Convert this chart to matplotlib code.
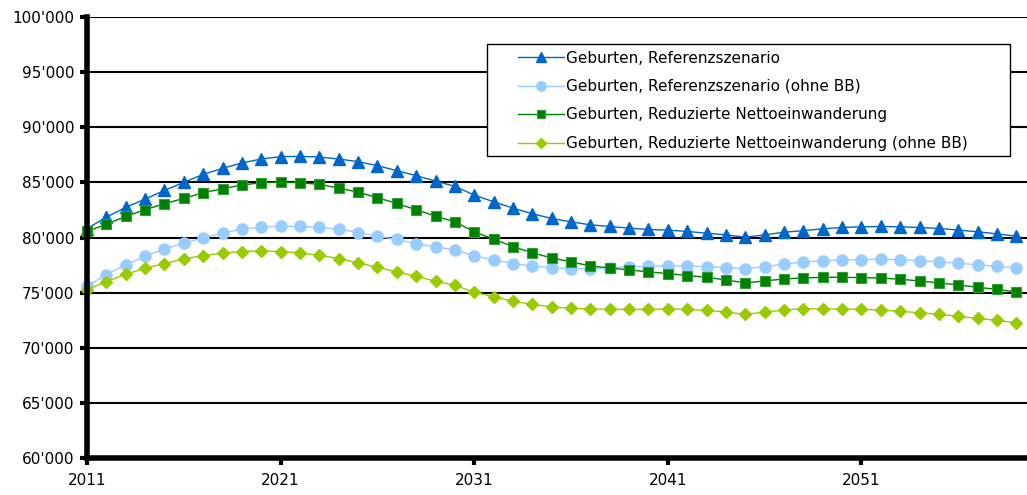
import matplotlib
matplotlib.use("Agg")
import matplotlib.pyplot as plt
from matplotlib.ticker import FuncFormatter
from matplotlib.patches import Rectangle

years = list(range(2011, 2060))

ref = [80800, 81850, 82730, 83480, 84270, 85000, 85730, 86270, 86760, 87120,
       87330, 87360, 87300, 87120, 86880, 86520, 86060, 85610, 85120, 84640,
       83850, 83240, 82670, 82150, 81730, 81420, 81150, 81000, 80850, 80730,
       80670, 80550, 80390, 80240, 80030, 80240, 80480, 80620, 80790, 80910,
       80970, 81000, 80970, 80910, 80820, 80670, 80520, 80330, 80120]

ref_ohne = [75580, 76640, 77520, 78300, 78970, 79480, 79970, 80390, 80760, 80940,
            81030, 81000, 80910, 80760, 80450, 80120, 79820, 79450, 79150, 78880,
            78330, 77970, 77640, 77390, 77270, 77180, 77150, 77270, 77360, 77390,
            77420, 77420, 77360, 77270, 77150, 77360, 77580, 77790, 77880, 77970,
            78000, 78030, 77970, 77910, 77790, 77670, 77520, 77390, 77240]

red = [80550, 81210, 81910, 82520, 83060, 83550, 84060, 84420, 84760, 84970,
       85030, 84970, 84820, 84480, 84120, 83610, 83090, 82520, 81940, 81420,
       80520, 79850, 79180, 78610, 78150, 77790, 77420, 77240, 77060, 76880,
       76730, 76550, 76390, 76150, 75880, 76060, 76240, 76330, 76390, 76390,
       76360, 76330, 76210, 76060, 75880, 75700, 75480, 75300, 75060]

red_ohne = [75270, 76000, 76670, 77210, 77640, 78060, 78360, 78580, 78730, 78790,
            78730, 78610, 78390, 78090, 77700, 77300, 76880, 76480, 76030, 75670,
            75030, 74640, 74210, 73940, 73700, 73580, 73520, 73480, 73480, 73480,
            73520, 73480, 73390, 73240, 73030, 73240, 73420, 73550, 73520, 73520,
            73480, 73420, 73300, 73180, 73030, 72850, 72670, 72480, 72270]

labels = ["Geburten, Referenzszenario",
          "Geburten, Referenzszenario (ohne BB)",
          "Geburten, Reduzierte Nettoeinwanderung",
          "Geburten, Reduzierte Nettoeinwanderung (ohne BB)"]

x_ticks = [2011, 2021, 2031, 2041, 2051]
y_ticks = list(range(60000, 100001, 5000))

fig = plt.figure(figsize=(10.27, 4.95), dpi=100)
ax = fig.add_axes([87/1027, 1 - 458/495, 1 - 87/1027, (458 - 17)/495])

ax.set_xlim(2011, 2059.55)
ax.set_ylim(60000, 100000)

for v in y_ticks[1:]:
    ax.axhline(v, color="black", lw=1.5, zorder=1)

ax.plot(years, ref, color="#0066CC", lw=1.0, marker="^", ms=9,
        mec="#0066CC", label=labels[0], zorder=5, clip_on=False)
ax.plot(years, ref_ohne, color="#99CCFF", lw=1.0, marker="o", ms=8,
        mec="#99CCFF", label=labels[1], zorder=4, clip_on=False)
ax.plot(years, red, color="#008000", lw=1.0, marker="s", ms=7.5,
        mec="#33A033", mew=0.8, label=labels[2], zorder=5, clip_on=False)
ax.plot(years, red_ohne, color="#99CC00", lw=1.0, marker="D", ms=6.5,
        mec="#99CC00", label=labels[3], zorder=4, clip_on=False)

ax.set_xticks(x_ticks)
ax.set_yticks(y_ticks)
ax.yaxis.set_major_formatter(FuncFormatter(lambda v, p: f"{int(v):,}".replace(",", "'")))

for s in ["top", "right"]:
    ax.spines[s].set_visible(False)
ax.spines["left"].set_linewidth(4)
ax.spines["bottom"].set_linewidth(4)
ax.spines["left"].set_zorder(6)
ax.spines["bottom"].set_zorder(6)
ax.tick_params(axis="y", length=5, width=3, labelsize=11, pad=4)
ax.tick_params(axis="x", length=5, width=3, labelsize=11, pad=6)

# legend frame
frame = Rectangle((0.4255, 0.6848), 0.9819 - 0.4255, 0.9388 - 0.6848,
                  transform=ax.transAxes, facecolor="white", edgecolor="black",
                  lw=1.0, zorder=9)
ax.add_patch(frame)

leg = ax.legend(loc="upper left", bbox_to_anchor=(0.4584, 0.924), fontsize=11,
                frameon=False, handlelength=3.0, labelspacing=0.88, borderpad=0,
                handletextpad=0.15, borderaxespad=0, markerscale=0.85)
leg.set_zorder(10)

fig.savefig("out.png", dpi=100)
